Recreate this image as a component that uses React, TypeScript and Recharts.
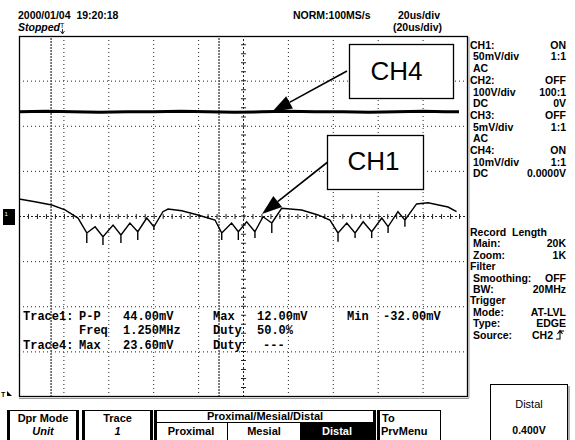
import { LineChart, Line, XAxis, YAxis, ReferenceLine } from "recharts"

// CH1 trace, time in us (20us/div), volts in mV (50mV/div)
const ch1Time = [
  0, 7.1, 14.6, 20.5, 26.3, 30.2, 30.2, 30.2, 33.9, 37.4, 37.4, 37.4, 41.9, 45.4, 45.4, 45.4,
  49.4, 52.9, 52.9, 52.9, 56.9, 60.1, 60.1, 60.1, 64.1, 66.4, 72.5, 79.7, 87.3, 90.3, 90.3, 90.3,
  94.7, 97.7, 97.7, 97.7, 101.4, 105.1, 105.1, 105.1, 108.7, 112.6, 112.6, 112.6, 117.0, 125.9,
  133.2, 138.5, 142.1, 142.1, 142.1, 146.0, 149.7, 149.7, 149.7, 153.3, 157.1, 157.1, 157.1,
  161.6, 164.4, 164.4, 164.4, 168.8, 171.9, 171.9, 171.9, 177.1, 182.2, 191.1, 194.9,
]
const ch1Mv = [
  19.4, 16.4, 12.7, 7.3, -1.7, -18.3, -29.4, -18.3, -11.3, -22.4, -31.6, -22.4, -9.4, -20.5, -29.4, -20.5,
  -7.2, -16.9, -26, -16.9, -1.7, -11.3, -15, -11.3, 5.3, 8.3, 6.4, 1.7, -3.9, -18.3, -26, -18.3,
  -7.2, -16.9, -26, -16.9, -5.8, -16.9, -23.8, -16.9, -0.2, -7.2, -18.3, -7.2, 9.1, 7.2,
  1.7, -3.9, -18.3, -27.9, -18.3, -7.2, -18.3, -23.8, -18.3, -5.8, -16.9, -23.8, -16.9,
  -1.7, -11.3, -18.3, -11.3, 5.3, -3.9, -11.3, -3.9, 13.9, 15.3, 10.5, 5.3,
]

// CH4 trace, 10mV/div
const ch4Time = [0, 12, 24, 36, 48, 60, 72, 84, 96, 108, 120, 132, 144, 156, 168, 180, 190, 196]
const ch4Mv = [23.2, 23.3, 23.2, 23.1, 23.2, 23.2, 23.3, 23.2, 23.1, 23.2, 23.3, 23.2, 23.2, 23.1, 23.2, 23.3, 23.2, 23.2]

const timeGrid = [20, 40, 60, 80, 120, 140, 160, 180]
const ch1Grid = [-150, -100, -50, 50, 100, 150]
const cursorTimes = [14.3, 89.1]

const ch1Data = ch1Time.map((t, i) => ({ t, v: ch1Mv[i] }))
const ch4Data = ch4Time.map((t, i) => ({ t, v: ch4Mv[i] }))

const SANS = "'Liberation Sans', Arial, sans-serif"
const MONO = "'Liberation Mono', 'DejaVu Sans Mono', monospace"

// right side settings panel: [label, value, indent]
const panelTop: [string, string, boolean][] = [
  ["CH1:", "ON", false],
  ["50mV/div", "1:1", true],
  ["AC", "", true],
  ["CH2:", "OFF", false],
  ["100V/div", "100:1", true],
  ["DC", "0V", true],
  ["CH3:", "OFF", false],
  ["5mV/div", "1:1", true],
  ["AC", "", true],
  ["CH4:", "ON", false],
  ["10mV/div", "1:1", true],
  ["DC", "0.0000V", true],
]
const panelBottom: [string, string, boolean][] = [
  ["Record  Length", "", false],
  ["Main:", "20K", true],
  ["Zoom:", "1K", true],
  ["Filter", "", false],
  ["Smoothing:", "OFF", true],
  ["BW:", "20MHz", true],
  ["Trigger", "", false],
  ["Mode:", "AT-LVL", true],
  ["Type:", "EDGE", true],
  ["Source:", "CH2", true],
]

// measurement readout: [text, x, row]
const readout: [string, number, number][] = [
  ["Trace1:", 23, 0], ["P-P", 79, 0], ["44.00mV", 123, 0], ["Max", 213, 0], ["12.00mV", 257, 0], ["Min", 347, 0], ["-32.00mV", 383, 0],
  ["Freq", 79, 1], ["1.250MHz", 123, 1], ["Duty", 213, 1], ["50.0%", 257, 1],
  ["Trace4:", 23, 2], ["Max", 79, 2], ["23.60mV", 123, 2], ["Duty", 213, 2], ["---", 263, 2],
]

function Arrow({ x1, y1, x2, y2 }: { x1: number; y1: number; x2: number; y2: number }) {
  const dx = x2 - x1
  const dy = y2 - y1
  const len = Math.hypot(dx, dy)
  const ux = dx / len
  const uy = dy / len
  const bx = x2 - ux * 20
  const by = y2 - uy * 20
  const nx = -uy * 7
  const ny = ux * 7
  return (
    <g>
      <line x1={x1} y1={y1} x2={bx} y2={by} stroke="#000" strokeWidth={1.6} />
      <polygon points={`${x2},${y2} ${bx + nx},${by + ny} ${bx - nx},${by - ny}`} fill="#000" />
    </g>
  )
}

function Overlay() {
  const txt = { fontFamily: SANS, fontWeight: 700, fontSize: 10.5, fill: "#000" }
  return (
    <svg width={575} height={440} style={{ position: "absolute", left: 0, top: 0 }}>
      {/* header */}
      <text x={18} y={19} {...txt} xmlSpace="preserve">2000/01/04  19:20:18</text>
      <text x={18} y={31} {...txt} fontStyle="italic">Stopped</text>
      <text x={293} y={19} {...txt}>NORM:100MS/s</text>
      <text x={398} y={19} {...txt}>20us/div</text>
      <text x={393} y={31} {...txt}>(20us/div)</text>
      <text x={60} y={28} fontFamily={SANS} fontSize={7} fill="#000">T</text>
      <path d="M62.5,29 L62.5,33 M60.5,31 L62.5,34 L64.5,31" stroke="#000" strokeWidth={0.8} fill="none" />

      {/* plot frame */}
      <rect x={19.5} y={36.5} width={448} height={360} fill="none" stroke="#000" strokeWidth={1.3} />
      <line x1={469} y1={37} x2={469} y2={398} stroke="#999" strokeWidth={1} />
      <line x1={19} y1={398.5} x2={469} y2={398.5} stroke="#999" strokeWidth={1} />

      {/* channel 1 ground marker */}
      <rect x={3} y={209} width={12} height={16} fill="#000" />
      <text x={4.5} y={216} fontFamily={SANS} fontSize={6} fill="#fff">1</text>
      {/* trigger marker */}
      <text x={1} y={397} fontFamily={SANS} fontSize={7} fontWeight={700} fill="#000">T</text>
      <polygon points="7,391 12,396 7,396" fill="#000" />

      {/* measurement readout */}
      {readout.map(([s, x, r], i) => (
        <text key={i} x={x} y={319.5 + r * 14.7} fontFamily={MONO} fontSize={12} fontWeight={700} fill="#000">
          {s}
        </text>
      ))}

      {/* annotations */}
      <Arrow x1={347} y1={71} x2={272} y2={112} />
      <rect x={349.5} y={44.5} width={104} height={54} fill="#fff" stroke="#000" strokeWidth={1.3} />
      <text x={396.5} y={80} textAnchor="middle" fontFamily={SANS} fontSize={26} fill="#000">CH4</text>
      <Arrow x1={329} y1={161} x2={262} y2={214} />
      <rect x={327.5} y={135.5} width={96} height={54} fill="#fff" stroke="#000" strokeWidth={1.3} />
      <text x={373.5} y={170} textAnchor="middle" fontFamily={SANS} fontSize={26} fill="#000">CH1</text>

      {/* right panel */}
      {panelTop.map(([l, v, ind], i) => (
        <g key={"a" + i}>
          <text x={ind ? 473 : 470} y={48.7 + i * 11.7} {...txt} xmlSpace="preserve">{l}</text>
          {v && <text x={566} y={48.7 + i * 11.7} textAnchor="end" {...txt}>{v}</text>}
        </g>
      ))}
      {panelBottom.map(([l, v, ind], i) => (
        <g key={"b" + i}>
          <text x={ind ? 473 : 470} y={236 + i * 11.4} {...txt} xmlSpace="preserve">{l}</text>
          {v && <text x={i === 9 ? 553 : 566} y={236 + i * 11.4} textAnchor="end" {...txt}>{v}</text>}
        </g>
      ))}
      <path d="M556,339 L560,339 L560,331 L564,331 M557.5,334 L560,330.5 L562.5,334" stroke="#000" strokeWidth={1.1} fill="none" />

      {/* Distal box */}
      <rect x={490.5} y={384.5} width={77} height={60} fill="#fff" stroke="#000" strokeWidth={1} />
      <line x1={569} y1={386} x2={569} y2={440} stroke="#999" strokeWidth={1.5} />
      <text x={529} y={408} textAnchor="middle" fontFamily={SANS} fontSize={11} fill="#000">Distal</text>
      <text x={529} y={434} textAnchor="middle" {...txt}>0.400V</text>

      {/* bottom menu */}
      <rect x={7.5} y={410.5} width={71} height={35} fill="#fff" stroke="#000" strokeWidth={1} />
      <line x1={9} y1={410} x2={9} y2={440} stroke="#000" strokeWidth={2} />
      <line x1={77} y1={410} x2={77} y2={440} stroke="#000" strokeWidth={2} />
      <text x={43} y={422} textAnchor="middle" {...txt} fontSize={11}>Dpr Mode</text>
      <text x={43} y={435} textAnchor="middle" {...txt} fontSize={11} fontStyle="italic">Unit</text>

      <rect x={82.5} y={410.5} width={70} height={35} fill="#fff" stroke="#000" strokeWidth={1} />
      <line x1={84} y1={410} x2={84} y2={440} stroke="#000" strokeWidth={2} />
      <line x1={151} y1={410} x2={151} y2={440} stroke="#000" strokeWidth={2} />
      <text x={117.5} y={422} textAnchor="middle" {...txt} fontSize={11}>Trace</text>
      <text x={117.5} y={435} textAnchor="middle" {...txt} fontSize={11} fontStyle="italic">1</text>

      <rect x={154.5} y={410.5} width={221} height={35} fill="#fff" stroke="#000" strokeWidth={1} />
      <line x1={156} y1={410} x2={156} y2={440} stroke="#000" strokeWidth={2} />
      <line x1={374} y1={410} x2={374} y2={440} stroke="#000" strokeWidth={2} />
      <line x1={155} y1={422.5} x2={375} y2={422.5} stroke="#000" strokeWidth={1} />
      <line x1={227.5} y1={422} x2={227.5} y2={440} stroke="#000" strokeWidth={1} />
      <line x1={300.5} y1={422} x2={300.5} y2={440} stroke="#000" strokeWidth={1} />
      <rect x={300} y={422} width={74} height={18} fill="#000" />
      <text x={265} y={420} textAnchor="middle" {...txt} fontSize={11}>Proximal/Mesial/Distal</text>
      <text x={191} y={435} textAnchor="middle" {...txt} fontSize={11}>Proximal</text>
      <text x={264} y={435} textAnchor="middle" {...txt} fontSize={11}>Mesial</text>
      <text x={337} y={435} textAnchor="middle" {...txt} fontSize={11} fill="#fff">Distal</text>

      <rect x={377.5} y={410.5} width={63} height={35} fill="#fff" stroke="#000" strokeWidth={1} />
      <line x1={379} y1={410} x2={379} y2={440} stroke="#000" strokeWidth={2} />
      <text x={382} y={422} {...txt} fontSize={11}>To</text>
      <text x={381} y={435} {...txt} fontSize={11}>PrvMenu</text>
    </svg>
  )
}

export default function App() {
  return (
    <div style={{ position: "absolute", left: 0, top: 0, width: 575, height: 440, background: "#fff", overflow: "hidden" }}>
      <div style={{ position: "absolute", left: 19, top: 36 }}>
        <LineChart width={449} height={361} margin={{ top: 0, right: 0, bottom: 0, left: 0 }}>
          <XAxis type="number" dataKey="t" domain={[0, 200]} hide allowDataOverflow />
          <YAxis yAxisId="ch1" type="number" domain={[-200, 200]} hide allowDataOverflow />
          <YAxis yAxisId="ch4" type="number" domain={[-40, 40]} hide allowDataOverflow />
          {timeGrid.map((t) => (
            <ReferenceLine key={"vx" + t} x={t} yAxisId="ch1" stroke="#222" strokeDasharray="1 3" />
          ))}
          {ch1Grid.map((v) => (
            <ReferenceLine key={"hy" + v} y={v} yAxisId="ch1" stroke="#222" strokeDasharray="1 3" />
          ))}
          <ReferenceLine x={100} yAxisId="ch1" stroke="#222" strokeDasharray="2 2" />
          <ReferenceLine x={100} yAxisId="ch1" stroke="#222" strokeWidth={5} strokeDasharray="1 8.02" />
          <ReferenceLine y={0} yAxisId="ch1" stroke="#222" strokeDasharray="2 2" />
          <ReferenceLine y={0} yAxisId="ch1" stroke="#222" strokeWidth={5} strokeDasharray="1 7.98" />
          {cursorTimes.map((t) => (
            <ReferenceLine key={"c" + t} x={t} yAxisId="ch1" stroke="#555" strokeWidth={1.5} strokeDasharray="2 1" />
          ))}
          <Line
            data={ch4Data}
            yAxisId="ch4"
            dataKey="v"
            stroke="#000"
            strokeWidth={3}
            dot={false}
            type="linear"
            isAnimationActive={false}
          />
          <Line
            data={ch1Data}
            yAxisId="ch1"
            dataKey="v"
            stroke="#000"
            strokeWidth={1.4}
            dot={false}
            type="linear"
            isAnimationActive={false}
          />
        </LineChart>
      </div>
      <Overlay />
    </div>
  )
}
